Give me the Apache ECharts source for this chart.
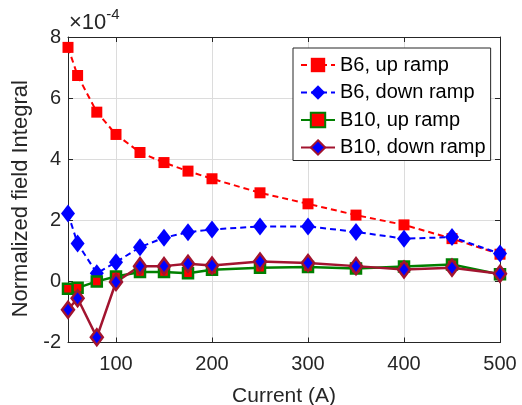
<!DOCTYPE html>
<html>
<head>
<meta charset="utf-8">
<script src="https://cdn.jsdelivr.net/npm/echarts@6/dist/echarts.min.js"></script>
<style>
  html, body { margin: 0; padding: 0; background: #fff; }
  #chart { width: 522px; height: 405px; }
</style>
</head>
<body>
<div id="chart"></div>
<script>
// currents (A) and normalized field integral, in units of 1e-4
const currents = [50, 60, 80, 100, 125, 150, 175, 200, 250, 300, 350, 400, 450, 500];
const b6Up = [7.66, 6.74, 5.54, 4.81, 4.22, 3.89, 3.61, 3.36, 2.90, 2.54, 2.17, 1.85, 1.40, 0.89];
const b6Down = [2.22, 1.24, 0.27, 0.63, 1.12, 1.43, 1.61, 1.70, 1.80, 1.80, 1.62, 1.40, 1.45, 0.91];
const b10Up = [-0.24, -0.21, 0.0, 0.16, 0.31, 0.31, 0.27, 0.38, 0.45, 0.47, 0.42, 0.49, 0.55, 0.23];
const b10Down = [-0.93, -0.55, -1.83, -0.02, 0.50, 0.50, 0.58, 0.52, 0.65, 0.60, 0.50, 0.39, 0.45, 0.25];
const xTicks = [100, 200, 300, 400, 500];

const FONT = 'Liberation Sans, Arial, sans-serif';
const AX = '#262626';

const pairs = (ys) => currents.map((x, i) => [x, ys[i]]);

const chart = echarts.init(document.getElementById('chart'), null, { renderer: 'canvas' });

chart.setOption({
  animation: false,
  backgroundColor: '#fff',
  grid: { left: 68, right: 22, top: 37, bottom: 62.5, outerBoundsMode: 'none' },
  textStyle: { fontFamily: FONT },
  xAxis: [
    {
      type: 'value', min: 50, max: 500,
      name: 'Current (A)', nameLocation: 'middle', nameGap: 43,
      nameTextStyle: { color: AX, fontSize: 21, fontFamily: FONT },
      axisLine: { show: true, onZero: false, lineStyle: { color: AX, width: 1 } },
      axisTick: { show: true, inside: true, length: 5, customValues: xTicks, lineStyle: { color: AX } },
      axisLabel: { customValues: xTicks, color: AX, fontSize: 20, fontFamily: FONT, margin: 12 },
      splitLine: { show: true, lineStyle: { color: '#dcdcdc', width: 1 } }
    },
    {
      type: 'value', min: 50, max: 500, position: 'top',
      axisLine: { show: true, onZero: false, lineStyle: { color: AX, width: 1 } },
      axisTick: { show: true, inside: true, length: 5, customValues: xTicks, lineStyle: { color: AX } },
      axisLabel: { show: false },
      splitLine: { show: false }
    }
  ],
  yAxis: [
    {
      type: 'value', min: -2, max: 8, interval: 2,
      name: 'Normalized field Integral', nameLocation: 'middle', nameGap: 32,
      nameTextStyle: { color: AX, fontSize: 22, fontFamily: FONT, padding: [0, 18, 0, 0] },
      axisLine: { show: true, onZero: false, lineStyle: { color: AX, width: 1 } },
      axisTick: { show: true, inside: true, length: 5, lineStyle: { color: AX } },
      axisLabel: { color: AX, fontSize: 20, fontFamily: FONT, margin: 7 },
      splitLine: { show: true, lineStyle: { color: '#dcdcdc', width: 1 } }
    },
    {
      type: 'value', min: -2, max: 8, interval: 2, position: 'right',
      axisLine: { show: true, onZero: false, lineStyle: { color: AX, width: 1 } },
      axisTick: { show: true, inside: true, length: 5, lineStyle: { color: AX } },
      axisLabel: { show: false },
      splitLine: { show: false }
    }
  ],
  legend: {
    orient: 'vertical',
    left: 293, top: 48,
    padding: [7, 5, 3, 7],
    itemWidth: 34, itemHeight: 18, itemGap: 7.5,
    backgroundColor: '#fff',
    borderColor: AX, borderWidth: 1,
    textStyle: { color: '#000', fontSize: 20, fontFamily: FONT },
    data: ['B6, up ramp', 'B6, down ramp', 'B10, up ramp', 'B10, down ramp']
  },
  graphic: [
    {
      type: 'text', left: 69, top: 7,
      style: {
        text: '{a|×10}{b|-4}',
        rich: {
          a: { fontSize: 22, fontFamily: FONT, fill: AX, verticalAlign: 'bottom' },
          b: { fontSize: 15, fontFamily: FONT, fill: AX, padding: [0, 0, 12, 0] }
        }
      }
    }
  ],
  series: [
    {
      name: 'B6, up ramp', type: 'line', data: pairs(b6Up), clip: false,
      symbol: 'rect', symbolSize: 11,
      lineStyle: { color: '#ff0000', width: 2, type: [6, 4] },
      itemStyle: { color: '#ff0000', borderWidth: 0 }
    },
    {
      name: 'B6, down ramp', type: 'line', data: pairs(b6Down), clip: false,
      symbol: 'diamond', symbolSize: [14, 18],
      lineStyle: { color: '#0000ff', width: 2, type: [6, 4] },
      itemStyle: { color: '#0000ff', borderWidth: 0 }
    },
    {
      name: 'B10, up ramp', type: 'line', data: pairs(b10Up), clip: false,
      symbol: 'rect', symbolSize: 10,
      lineStyle: { color: '#008000', width: 2.5 },
      itemStyle: { color: '#ff0000', borderColor: '#008000', borderWidth: 2.5 }
    },
    {
      name: 'B10, down ramp', type: 'line', data: pairs(b10Down), clip: false,
      symbol: 'diamond', symbolSize: [12, 16],
      lineStyle: { color: '#a2142f', width: 2.5 },
      itemStyle: { color: '#0000ff', borderColor: '#a2142f', borderWidth: 2.5 }
    }
  ]
});
</script>
</body>
</html>
